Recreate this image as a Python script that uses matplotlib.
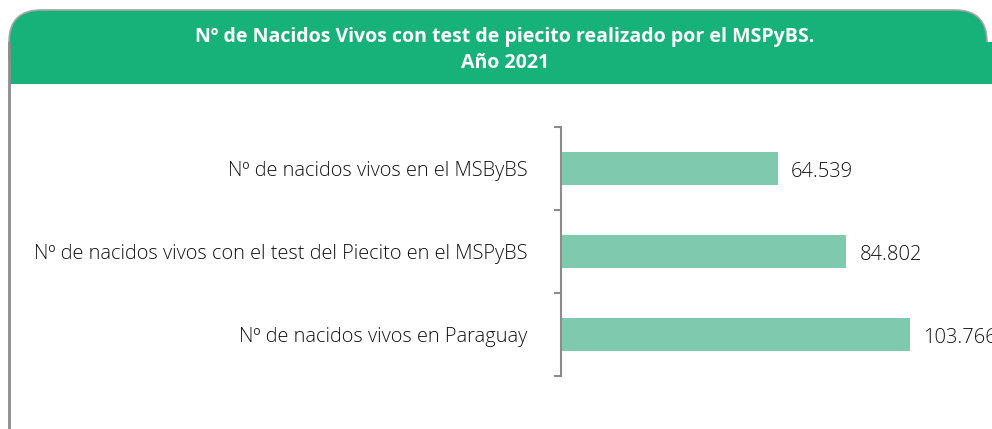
import matplotlib
matplotlib.use('Agg')
import matplotlib.pyplot as plt
from matplotlib.patches import FancyBboxPatch, Rectangle

# Data
categorias = [
    'Nº de nacidos vivos en el MSByBS',
    'Nº de nacidos vivos con el test del Piecito en el MSPyBS',
    'Nº de nacidos vivos en Paraguay',
]
valores = [64539, 84802, 103766]
titulo = 'Nº de Nacidos Vivos con test de piecito realizado por el MSPyBS.\nAño 2021'

verde = '#16b27a'
verde_barra = '#7fcaae'
gris = '#8c8c8c'

plt.rcParams['font.family'] = ['Open Sans', 'DejaVu Sans']

W, H = 992, 429
fig = plt.figure(figsize=(W / 100, H / 100), dpi=100)

# Background axes in pixel coordinates for the header box
bg = fig.add_axes([0, 0, 1, 1], zorder=0)
bg.set_xlim(0, W)
bg.set_ylim(H, 0)
bg.axis('off')
bg.add_patch(FancyBboxPatch((9, 10), 978, 120, boxstyle='round,pad=0,rounding_size=32',
                            facecolor=verde, edgecolor='#a6a6a6', linewidth=1.2))
bg.add_patch(Rectangle((8, 60), 990, 90, facecolor='white', edgecolor='none'))
bg.add_patch(Rectangle((9, 42), 983, 42, facecolor=verde, edgecolor='none'))
bg.plot([9, 9], [42, H], color=gris, linewidth=2, solid_capstyle='butt')
bg.text(505, 50, titulo, ha='center', va='center', color='white',
        fontsize=14, fontweight='bold', linespacing=1.45)

# Bar chart axes
left = 561 / W
top = (H - 127) / H
bottom = (H - 376) / H
ax = fig.add_axes([left, bottom, 1 - left, top - bottom], zorder=1)
ax.patch.set_alpha(0)

pos = list(range(len(categorias)))
ax.barh(pos, valores, height=0.4, color=verde_barra)
ax.set_ylim(2.5, -0.5)
ax.set_xlim(0, 128200)

# value labels (the last one runs off the right edge, as in the original)
for p, v in zip(pos, valores):
    ax.annotate(f'{v:,}'.replace(',', '.'), (v, p), xytext=(9.5, -2.5),
                textcoords='offset points', ha='left', va='center',
                fontsize=14.5, fontweight='light', color='#111111',
                annotation_clip=False)

ax.set_yticks(pos)
ax.set_yticklabels(categorias, fontsize=14.4, fontweight='light', color='#111111')
ax.tick_params(axis='y', which='major', length=0, pad=24)
ax.set_yticks([-0.5, 0.5, 1.5, 2.5], minor=True)
ax.tick_params(axis='y', which='minor', length=5, width=1.5, color=gris)
ax.set_xticks([])

for s in ['top', 'right', 'bottom']:
    ax.spines[s].set_visible(False)
ax.spines['left'].set_color(gris)
ax.spines['left'].set_linewidth(1.5)

fig.savefig('out.png', dpi=100)
